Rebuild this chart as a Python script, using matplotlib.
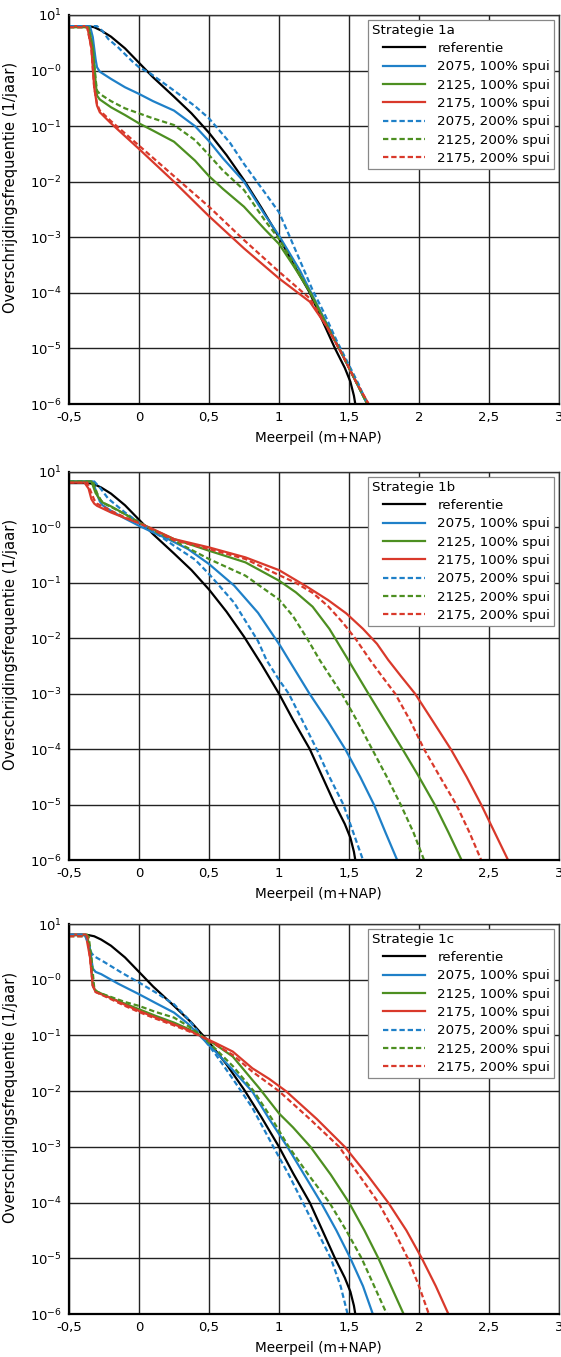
"""Overschrijdingsfrequentie meerpeil, strategie 1a/1b/1c (three stacked panels)."""
import numpy as np
import matplotlib.pyplot as plt
from matplotlib.legend_handler import HandlerLine2D
from matplotlib.lines import Line2D

plt.rcParams.update({'font.family': 'DejaVu Sans', 'mathtext.default': 'regular'})

BLUE, GREEN, RED = '#1f80c8', '#4d8f21', '#d9392b'

# referentie is the same curve in every panel (x in m+NAP, y as log10 of 1/jaar)
ref_x = [-0.5, -0.36, -0.32, -0.27, -0.2, -0.1, 0.0, 0.1, 0.25, 0.375, 0.5, 0.625, 0.75, 0.875, 1.0, 1.1, 1.22, 1.31, 1.4, 1.47, 1.51, 1.535, 1.545]
ref_lg = [0.80, 0.80, 0.78, 0.72, 0.61, 0.40, 0.14, -0.12, -0.47, -0.77, -1.12, -1.52, -1.97, -2.47, -3.0, -3.47, -4.0, -4.5, -5.0, -5.35, -5.6, -5.85, -6.0]

# --- Strategie 1a ---
a_b100_x = [-0.5, -0.35, -0.33, -0.31, -0.30, -0.28, -0.2, -0.1, 0.0, 0.1, 0.25, 0.4, 0.5, 0.6, 0.75, 0.9, 1.0, 1.15, 1.27, 1.35, 1.45, 1.55, 1.63]
a_b100_lg = [0.80, 0.80, 0.6, 0.2, 0.06, -0.02, -0.15, -0.3, -0.42, -0.55, -0.72, -1.0, -1.27, -1.58, -2.0, -2.6, -2.97, -3.6, -4.2, -4.6, -5.1, -5.6, -6.0]
a_b200_x = [-0.5, -0.3, -0.26, -0.22, -0.15, -0.05, 0.0, 0.08, 0.25, 0.4, 0.5, 0.65, 0.75, 0.9, 1.0, 1.07, 1.24, 1.32, 1.41, 1.5, 1.57, 1.63]
a_b200_lg = [0.80, 0.80, 0.71, 0.57, 0.42, 0.17, 0.06, -0.05, -0.36, -0.64, -0.86, -1.3, -1.68, -2.2, -2.55, -2.95, -3.95, -4.35, -4.85, -5.3, -5.65, -6.0]
a_g_x = [-0.5, -0.36, -0.33, -0.31, -0.30, -0.28, -0.2, -0.1, 0.0, 0.1, 0.25, 0.4, 0.5, 0.6, 0.75, 0.9, 1.0, 1.1, 1.22, 1.35, 1.45, 1.55, 1.63]
a_g100_lg = [0.78, 0.78, 0.4, -0.2, -0.45, -0.52, -0.66, -0.8, -0.95, -1.08, -1.28, -1.62, -1.9, -2.13, -2.45, -2.86, -3.12, -3.5, -3.98, -4.62, -5.1, -5.6, -6.0]
a_g200_lg = [0.78, 0.78, 0.4, -0.15, -0.36, -0.42, -0.55, -0.68, -0.77, -0.86, -0.98, -1.25, -1.52, -1.8, -2.15, -2.7, -3.03, -3.45, -3.98, -4.62, -5.1, -5.6, -6.0]
a_r_x = [-0.5, -0.37, -0.34, -0.32, -0.30, -0.28, -0.2, -0.1, 0.0, 0.25, 0.5, 0.75, 1.0, 1.22, 1.34, 1.45, 1.55, 1.64]
a_r100_lg = [0.80, 0.80, 0.4, -0.3, -0.63, -0.75, -0.95, -1.18, -1.41, -2.0, -2.62, -3.2, -3.74, -4.16, -4.6, -5.1, -5.6, -6.0]
a_r200_lg = [0.78, 0.78, 0.4, -0.3, -0.6, -0.72, -0.91, -1.13, -1.35, -1.9, -2.45, -3.05, -3.62, -4.1, -4.6, -5.1, -5.6, -6.0]

# --- Strategie 1b ---
b_b100_x = [-0.5, -0.33, -0.3, -0.28, -0.26, -0.2, -0.1, 0.0, 0.1, 0.2, 0.35, 0.5, 0.68, 0.85, 1.01, 1.07, 1.218, 1.35, 1.473, 1.58, 1.678, 1.76, 1.844]
b_b100_lg = [0.83, 0.83, 0.6, 0.47, 0.4, 0.3, 0.16, 0.03, -0.09, -0.2, -0.39, -0.66, -1.05, -1.54, -2.14, -2.39, -3.0, -3.5, -4.0, -4.5, -5.0, -5.5, -6.0]
b_b200_x = [-0.5, -0.32, -0.28, -0.22, -0.1, 0.0, 0.13, 0.25, 0.4, 0.5, 0.68, 0.85, 0.91, 1.0, 1.07, 1.17, 1.269, 1.36, 1.46, 1.53, 1.60]
b_b200_lg = [0.83, 0.83, 0.72, 0.52, 0.27, 0.09, -0.12, -0.33, -0.58, -0.84, -1.36, -2.05, -2.39, -2.75, -3.0, -3.5, -4.0, -4.5, -5.0, -5.5, -6.0]
b_g100_x = [-0.5, -0.34, -0.31, -0.28, -0.26, -0.2, -0.1, 0.0, 0.1, 0.25, 0.5, 0.76, 1.0, 1.12, 1.24, 1.36, 1.48, 1.639, 1.76, 1.882, 2.0, 2.112, 2.21, 2.304]
b_g100_lg = [0.83, 0.83, 0.62, 0.51, 0.45, 0.38, 0.24, 0.09, -0.04, -0.21, -0.42, -0.63, -0.96, -1.17, -1.43, -1.83, -2.33, -3.0, -3.5, -4.0, -4.5, -5.0, -5.5, -6.0]
b_g200_x = [-0.5, -0.33, -0.3, -0.27, -0.24, -0.2, -0.1, 0.0, 0.1, 0.25, 0.5, 0.76, 1.0, 1.1, 1.2, 1.29, 1.37, 1.448, 1.56, 1.665, 1.77, 1.869, 1.96, 2.036]
b_g200_lg = [0.83, 0.83, 0.62, 0.48, 0.42, 0.37, 0.24, 0.09, -0.05, -0.24, -0.57, -0.87, -1.3, -1.6, -2.0, -2.39, -2.7, -3.0, -3.5, -4.0, -4.5, -5.0, -5.5, -6.0]
b_r100_x = [-0.5, -0.39, -0.36, -0.34, -0.32, -0.3, -0.2, -0.1, 0.0, 0.1, 0.25, 0.5, 0.76, 1.0, 1.2, 1.35, 1.48, 1.6, 1.7, 1.78, 1.87, 1.972, 2.1, 2.227, 2.34, 2.444, 2.54, 2.636]
b_r100_lg = [0.81, 0.81, 0.7, 0.51, 0.43, 0.39, 0.27, 0.17, 0.08, -0.03, -0.21, -0.36, -0.54, -0.77, -1.07, -1.31, -1.55, -1.83, -2.1, -2.39, -2.68, -3.0, -3.5, -4.0, -4.5, -5.0, -5.5, -6.0]
b_r200_x = [-0.5, -0.37, -0.34, -0.32, -0.3, -0.2, -0.1, 0.0, 0.1, 0.25, 0.5, 0.76, 1.0, 1.12, 1.24, 1.35, 1.45, 1.55, 1.65, 1.74, 1.83, 1.94, 2.036, 2.15, 2.266, 2.36, 2.444]
b_r200_lg = [0.81, 0.81, 0.62, 0.5, 0.43, 0.3, 0.18, 0.08, -0.04, -0.23, -0.39, -0.57, -0.86, -1.0, -1.18, -1.42, -1.7, -2.02, -2.39, -2.7, -3.0, -3.5, -4.0, -4.5, -5.0, -5.5, -6.0]

# --- Strategie 1c ---
c_b100_x = [-0.5, -0.38, -0.35, -0.33, -0.31, -0.27, -0.15, 0.0, 0.12, 0.25, 0.35, 0.44, 0.55, 0.67, 0.81, 0.93, 1.06, 1.18, 1.30, 1.41, 1.51, 1.6, 1.67]
c_b100_lg = [0.81, 0.81, 0.55, 0.2, 0.14, 0.1, -0.07, -0.26, -0.42, -0.59, -0.79, -1.02, -1.3, -1.62, -2.01, -2.5, -3.0, -3.5, -4.0, -4.5, -5.0, -5.5, -6.0]
c_b200_x = [-0.5, -0.39, -0.36, -0.34, -0.32, -0.25, -0.12, 0.0, 0.12, 0.25, 0.35, 0.44, 0.55, 0.67, 0.81, 0.96, 1.07, 1.17, 1.27, 1.37, 1.44, 1.49]
c_b200_lg = [0.81, 0.81, 0.65, 0.48, 0.42, 0.32, 0.12, -0.05, -0.23, -0.44, -0.7, -0.99, -1.35, -1.78, -2.3, -3.0, -3.5, -4.0, -4.5, -5.0, -5.5, -6.0]
c_g100_x = [-0.5, -0.37, -0.35, -0.33, -0.31, -0.2, -0.1, 0.0, 0.12, 0.25, 0.35, 0.44, 0.55, 0.67, 0.81, 0.86, 1.0, 1.1, 1.225, 1.37, 1.50, 1.61, 1.71, 1.8, 1.89]
c_g100_lg = [0.81, 0.81, 0.5, -0.11, -0.2, -0.33, -0.43, -0.53, -0.65, -0.77, -0.88, -1.0, -1.17, -1.38, -1.8, -1.95, -2.4, -2.65, -3.0, -3.5, -4.0, -4.5, -5.0, -5.5, -6.0]
c_g200_x = [-0.5, -0.36, -0.34, -0.32, -0.3, -0.2, -0.1, 0.0, 0.12, 0.25, 0.35, 0.44, 0.55, 0.67, 0.82, 0.95, 1.07, 1.21, 1.36, 1.48, 1.59, 1.68, 1.77]
c_g200_lg = [0.78, 0.78, 0.4, -0.14, -0.22, -0.31, -0.4, -0.47, -0.58, -0.68, -0.83, -0.99, -1.25, -1.55, -2.0, -2.5, -3.0, -3.5, -4.0, -4.5, -5.0, -5.5, -6.0]
c_r100_x = [-0.5, -0.38, -0.35, -0.33, -0.31, -0.2, -0.1, 0.0, 0.12, 0.25, 0.35, 0.44, 0.55, 0.67, 0.81, 0.93, 1.05, 1.27, 1.47, 1.63, 1.78, 1.91, 2.02, 2.12, 2.21]
c_r100_lg = [0.81, 0.81, 0.4, -0.11, -0.22, -0.33, -0.45, -0.56, -0.68, -0.8, -0.9, -1.01, -1.14, -1.29, -1.59, -1.78, -2.0, -2.5, -3.0, -3.5, -4.0, -4.5, -5.0, -5.5, -6.0]
c_r200_x = [-0.5, -0.37, -0.35, -0.33, -0.31, -0.2, -0.1, 0.0, 0.12, 0.25, 0.35, 0.44, 0.55, 0.67, 0.81, 1.0, 1.22, 1.43, 1.57, 1.71, 1.82, 1.92, 2.0, 2.07]
c_r200_lg = [0.78, 0.78, 0.4, -0.1, -0.22, -0.35, -0.47, -0.58, -0.7, -0.82, -0.92, -1.01, -1.17, -1.35, -1.65, -2.0, -2.5, -3.0, -3.5, -4.0, -4.5, -5.0, -5.5, -6.0]

labels = ['referentie', '2075, 100% spui', '2125, 100% spui', '2175, 100% spui',
          '2075, 200% spui', '2125, 200% spui', '2175, 200% spui']
titles = ['Strategie 1a', 'Strategie 1b', 'Strategie 1c']
xticks = [-0.5, 0, 0.5, 1, 1.5, 2, 2.5, 3]
xticklabels = ['-0,5', '0', '0,5', '1', '1,5', '2', '2,5', '3']
yexp = [1, 0, -1, -2, -3, -4, -5, -6]
yticklabels = [r'$10^{1}$', r'$10^{-0}$', r'$10^{-1}$', r'$10^{-2}$', r'$10^{-3}$',
               r'$10^{-4}$', r'$10^{-5}$', r'$10^{-6}$']

panels = [
    [(a_b100_x, a_b100_lg), (a_g_x, a_g100_lg), (a_r_x, a_r100_lg),
     (a_b200_x, a_b200_lg), (a_g_x, a_g200_lg), (a_r_x, a_r200_lg)],
    [(b_b100_x, b_b100_lg), (b_g100_x, b_g100_lg), (b_r100_x, b_r100_lg),
     (b_b200_x, b_b200_lg), (b_g200_x, b_g200_lg), (b_r200_x, b_r200_lg)],
    [(c_b100_x, c_b100_lg), (c_g100_x, c_g100_lg), (c_r100_x, c_r100_lg),
     (c_b200_x, c_b200_lg), (c_g200_x, c_g200_lg), (c_r200_x, c_r200_lg)],
]
colors = [BLUE, GREEN, RED, BLUE, GREEN, RED]
dashed = [False, False, False, True, True, True]

W, H = 561, 1357
fig = plt.figure(figsize=(W / 100, H / 100), dpi=100)
boxes = [(15, 404), (472, 860), (924, 1314)]  # top, bottom in pixels

for k, (top, bot) in enumerate(boxes):
    ax = fig.add_axes([69 / W, (H - bot) / H, 490 / W, (bot - top) / H])
    ax.plot(ref_x, 10.0 ** np.array(ref_lg), color='black', lw=1.6, label=labels[0])
    for (xs, lg), c, d, lab in zip(panels[k], colors, dashed, labels[1:]):
        kw = dict(dashes=(2.4, 1.3)) if d else {}
        ax.plot(xs, 10.0 ** np.array(lg), color=c, lw=1.6, label=lab, **kw)
    ax.set_yscale('log')
    ax.set_xlim(-0.5, 3)
    ax.set_ylim(1e-6, 10)
    ax.set_xticks(xticks)
    ax.set_xticklabels(xticklabels)
    ax.set_yticks([10.0 ** e for e in yexp])
    ax.set_yticklabels(yticklabels)
    ax.minorticks_off()
    ax.tick_params(length=0, labelsize=9.5)
    ax.tick_params(axis='y', pad=5)
    ax.tick_params(axis='x', pad=5)
    ax.grid(True, color='#222222', lw=1.0)
    ax.set_axisbelow(True)
    for s in ['top', 'right']:
        ax.spines[s].set_linewidth(1.0)
        ax.spines[s].set_color('#333333')
    for s in ['left', 'bottom']:
        ax.spines[s].set_linewidth(1.6)
    ax.set_ylabel('Overschrijdingsfrequentie (1/jaar)', fontsize=10.6)
    ax.yaxis.set_label_coords(-0.105, 0.556)
    ax.set_xlabel('Meerpeil (m+NAP)', fontsize=9.8)
    ax.xaxis.set_label_coords(0.508, -0.07)
    leg = ax.legend(title=titles[k], loc='upper right', fontsize=9.6, title_fontsize=9.6,
                    alignment='left', frameon=True, fancybox=False, framealpha=1,
                    edgecolor='#888888', borderpad=0.3, labelspacing=0.4,
                    handlelength=4.0, handletextpad=0.9, borderaxespad=0.35,
                    handler_map={Line2D: HandlerLine2D(xpad=0.8)})
    leg.get_frame().set_linewidth(0.9)

fig.savefig('out.png', dpi=100)
